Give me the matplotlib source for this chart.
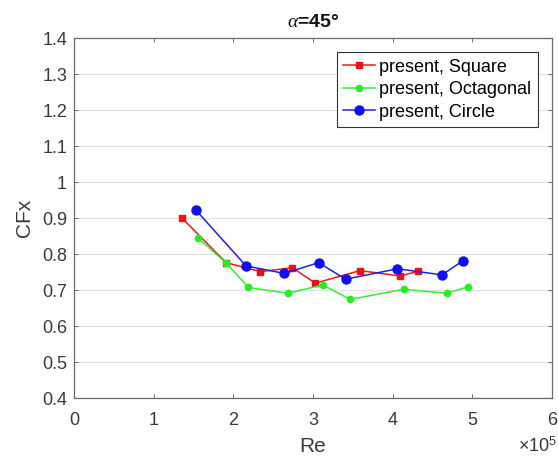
import numpy as np
import matplotlib.pyplot as plt
from matplotlib.ticker import FuncFormatter, MultipleLocator

plt.rcParams['font.family'] = ['Liberation Sans', 'DejaVu Sans']
plt.rcParams['mathtext.fontset'] = 'custom'
plt.rcParams['mathtext.it'] = 'Liberation Serif:italic'
plt.rcParams['mathtext.rm'] = 'Liberation Sans'

# Reynolds number and force coefficient
re_square = [136000, 191000, 234000, 274000, 303000, 359000, 409000, 432000]
cfx_square = [0.899, 0.776, 0.751, 0.762, 0.719, 0.754, 0.739, 0.752]

re_octagonal = [156000, 191000, 219000, 269000, 312000, 347000, 414000, 468000, 495000]
cfx_octagonal = [0.844, 0.775, 0.707, 0.691, 0.714, 0.674, 0.702, 0.691, 0.709]

re_circle = [153000, 216000, 264000, 307000, 341000, 406000, 462000, 488000]
cfx_circle = [0.922, 0.767, 0.746, 0.776, 0.730, 0.759, 0.742, 0.781]

labels = ['present, Square', 'present, Octagonal', 'present, Circle']

txt = '#3a3a3a'
axc = '#6a6a6a'

fig = plt.figure(figsize=(5.58, 4.62), dpi=100)
ax = fig.add_axes((0.1326, 0.1385, 0.8566, 0.7792))

ax.plot(re_square, cfx_square, '-s', c='#f01818', mfc='#ee1111', mec='#ee1111',
        ms=5, lw=1.1, label=labels[0])
ax.plot(re_octagonal, cfx_octagonal, '-o', c='#33ee33', mfc='#22ee22', mec='#22ee22',
        ms=4.5, lw=1.1, label=labels[1])
ax.plot(re_circle, cfx_circle, '-o', c='#2020e0', mfc='#1010f0', mec='#1010f0',
        ms=6.5, lw=1.1, label=labels[2])

ax.set_xlim(0, 6e5)
ax.set_ylim(0.4, 1.4)
ax.xaxis.set_major_locator(MultipleLocator(1e5))
ax.yaxis.set_major_locator(MultipleLocator(0.1))
ax.xaxis.set_major_formatter(FuncFormatter(lambda v, p: f'{v / 1e5:g}'))
ax.yaxis.set_major_formatter(FuncFormatter(lambda v, p: f'{v:g}'))

ax.grid(axis='y', color='#e2e2e2', lw=0.9)
ax.set_axisbelow(True)
ax.tick_params(direction='in', length=3, width=0.7, colors=axc, labelcolor=txt,
               labelsize=13, top=True, right=True)
ax.tick_params(axis='x', pad=10)
ax.tick_params(axis='y', pad=5)
for s in ax.spines.values():
    s.set_color(axc)
    s.set_linewidth(0.9)

ax.set_xlabel('Re', fontsize=15, color=txt, labelpad=6)
ax.set_ylabel('CFx', fontsize=15, color=txt, labelpad=6)
ax.set_title(r'$\alpha$=45°', fontsize=14, fontweight='bold', color='#111111', pad=8)
fig.text(0.998, 0.012, r'×10$^{\mathrm{5}}$', ha='right', va='bottom',
         fontsize=13, color=txt)

leg = ax.legend(loc='upper right', fontsize=13, fancybox=False, framealpha=1,
                edgecolor='#333333', borderaxespad=0.8, handlelength=1.8,
                handletextpad=0.2, labelspacing=0.3, borderpad=0.35)
leg.get_frame().set_linewidth(0.8)

fig.savefig('out.png', dpi=100)
